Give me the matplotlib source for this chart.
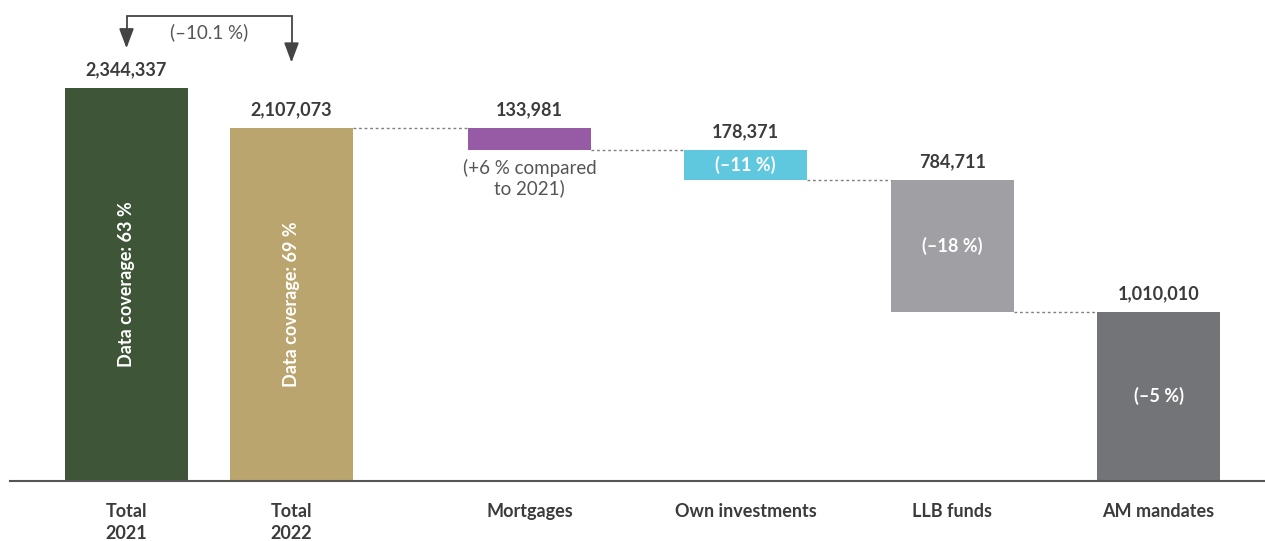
import numpy as np
import matplotlib.pyplot as plt

plt.rcParams['font.family'] = ['Lato', 'DejaVu Sans']

# Financed emissions breakdown (tCO2e)
categorias = ['Total\n2021', 'Total\n2022', 'Mortgages', 'Own investments', 'LLB funds', 'AM mandates']
total_2021 = 2344337
total_2022 = 2107073
componentes = [133981, 178371, 784711, 1010010]
variacoes = ['(+6 % compared\nto 2021)', '(–11 %)', '(–18 %)', '(–5 %)']
cobertura = ['Data coverage: 63 %', 'Data coverage: 69 %']
variacao_total = '(–10.1 %)'

cores = ['#3e5537', '#bba56e', '#975ba5', '#5fc8df', '#a0a0a4', '#737478']
texto = '#3b3b3b'

# posições horizontais das barras
pos = np.array([126.5, 291.5, 529.5, 745.5, 952.5, 1158.5])
largura = 123

fig = plt.figure(figsize=(12.65, 5.41), dpi=100)
ax = fig.add_axes([10 / 1265, 60 / 541, 1255 / 1265, 481 / 541])

# base de cada componente: empilhado de cima para baixo a partir do total 2022
bases = total_2022 - np.cumsum(componentes)
alturas = [total_2021, total_2022] + componentes
fundos = [0, 0] + list(bases)

barras = ax.bar(pos, alturas, largura, bottom=fundos, color=cores)

# rótulos de valor acima das barras
for b, h in zip(barras, alturas):
    ax.annotate(f'{h:,}', xy=(b.get_x() + b.get_width() / 2, b.get_y() + b.get_height()),
                xytext=(0, 7), textcoords='offset points', ha='center', va='bottom',
                fontsize=13, fontweight='bold', color=texto)

# linhas pontilhadas ligando as barras
topos = [total_2022] + list(bases)
for i in range(4):
    x0 = pos[i + 1] + largura / 2
    x1 = pos[i + 2] - largura / 2
    ax.plot([x0, x1], [topos[i], topos[i]], color='#808080', lw=1, ls=(0, (2, 2)))

# cobertura de dados dentro das barras de total
for i, txt in enumerate(cobertura):
    ax.text(pos[i], alturas[i] * 0.5, txt, rotation=90, ha='center', va='center',
            fontsize=13, fontweight='bold', color='white')

# variações percentuais
ax.annotate(variacoes[0], xy=(pos[2], bases[0]), xytext=(0, -6), textcoords='offset points',
            ha='center', va='top', fontsize=13.5, color='#555555', linespacing=1.2)
for i in range(1, 3):
    ax.text(pos[i + 2], bases[i] + componentes[i] / 2, variacoes[i], ha='center', va='center',
            fontsize=13, fontweight='bold', color='white')
ax.text(pos[5], componentes[3] * 0.5, variacoes[3], ha='center', va='center',
        fontsize=13, fontweight='bold', color='white')

# seta de variação entre os totais
cor_seta = '#444444'
y_seta = 2775000
ax.plot([pos[0], pos[0], pos[1], pos[1]], [2620000, y_seta, y_seta, 2540000],
        color=cor_seta, lw=1.3, solid_joinstyle='miter')
seta = dict(arrowstyle='-|>,head_width=0.45,head_length=1.2', color=cor_seta, lw=1.3)
ax.annotate('', xy=(pos[0], 2565000), xytext=(pos[0], 2660000), arrowprops=seta)
ax.annotate('', xy=(pos[1], 2480000), xytext=(pos[1], 2575000), arrowprops=seta)
ax.text((pos[0] + pos[1]) / 2, 2680000, variacao_total, ha='center', va='center',
        fontsize=13.5, color='#555555')

ax.set_xlim(10, 1265)
ax.set_ylim(0, 2869300)
ax.set_xticks(pos)
ax.set_xticklabels(categorias, fontsize=13, fontweight='bold', color=texto, linespacing=1.35)
ax.tick_params(axis='x', length=0, pad=16)
ax.set_yticks([])
for lado in ['top', 'right', 'left']:
    ax.spines[lado].set_visible(False)
ax.spines['bottom'].set_color('#555555')
ax.spines['bottom'].set_linewidth(1.5)

fig.savefig('out.png', dpi=100)
